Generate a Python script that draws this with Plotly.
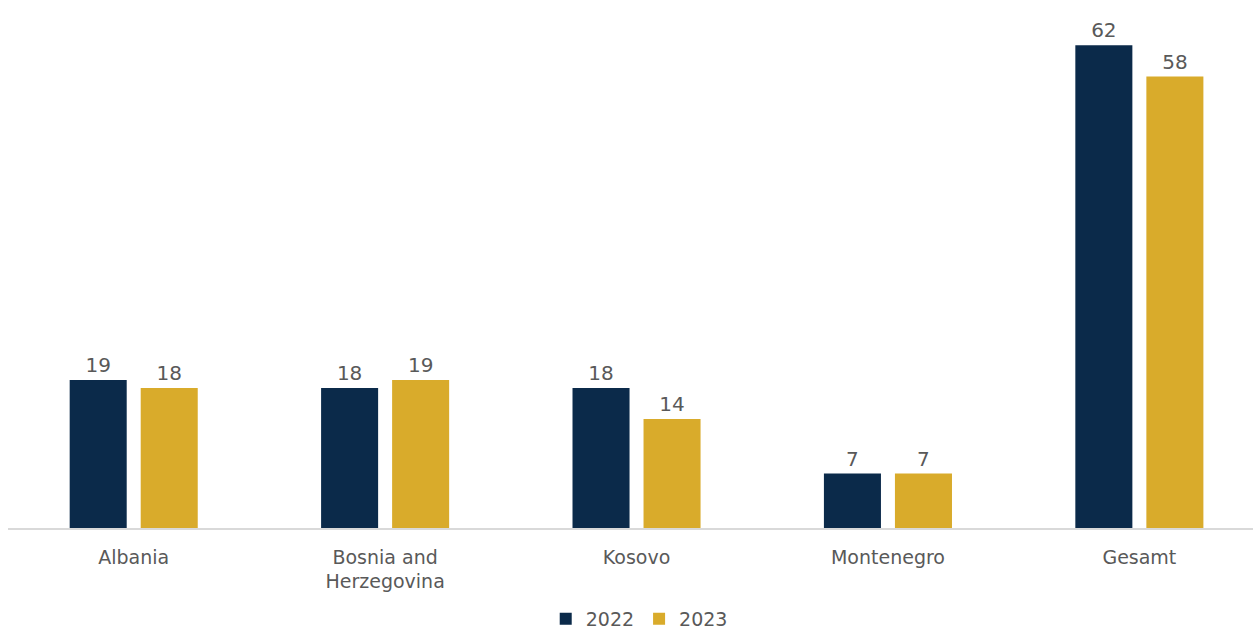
import plotly.graph_objects as go

categories = ["Albania", "Bosnia and<br>Herzegovina", "Kosovo", "Montenegro", "Gesamt"]
values_2022 = [19, 18, 18, 7, 62]
values_2023 = [18, 19, 14, 7, 58]

NAVY = "#0b2a4a"
GOLD = "#d9ab2b"
TEXT = "#595959"
FONT = "DejaVu Sans"

fig = go.Figure()
for name, vals, color in [("2022", values_2022, NAVY), ("2023", values_2023, GOLD)]:
    fig.add_trace(go.Bar(
        x=categories, y=vals, name=name,
        marker=dict(color=color, line=dict(width=0)),
        text=vals, textposition="outside",
        textfont=dict(family=FONT, size=20, color=TEXT),
        cliponaxis=False,
    ))

fig.update_layout(
    width=1253, height=632,
    margin=dict(l=8, r=0, t=15, b=104),
    paper_bgcolor="white", plot_bgcolor="white",
    barmode="group", bargap=0.435, bargroupgap=0.197,
    font=dict(family=FONT, size=20, color=TEXT),
    showlegend=True,
    legend=dict(orientation="h", x=0.507, xanchor="center",
                yref="container", y=(632 - 619) / 632, yanchor="middle",
                font=dict(family=FONT, size=19, color=TEXT),
                itemwidth=30, tracegroupgap=0),
    xaxis=dict(range=[-0.5, 4.452], showline=True, linecolor="#d9d9d9", linewidth=1.5,
               showgrid=False, ticks="", ticklabelstandoff=11,
               tickfont=dict(family=FONT, size=19, color=TEXT)),
    yaxis=dict(range=[0, 65.9], visible=False, showgrid=False, zeroline=False),
)

fig.write_html("out.html")
